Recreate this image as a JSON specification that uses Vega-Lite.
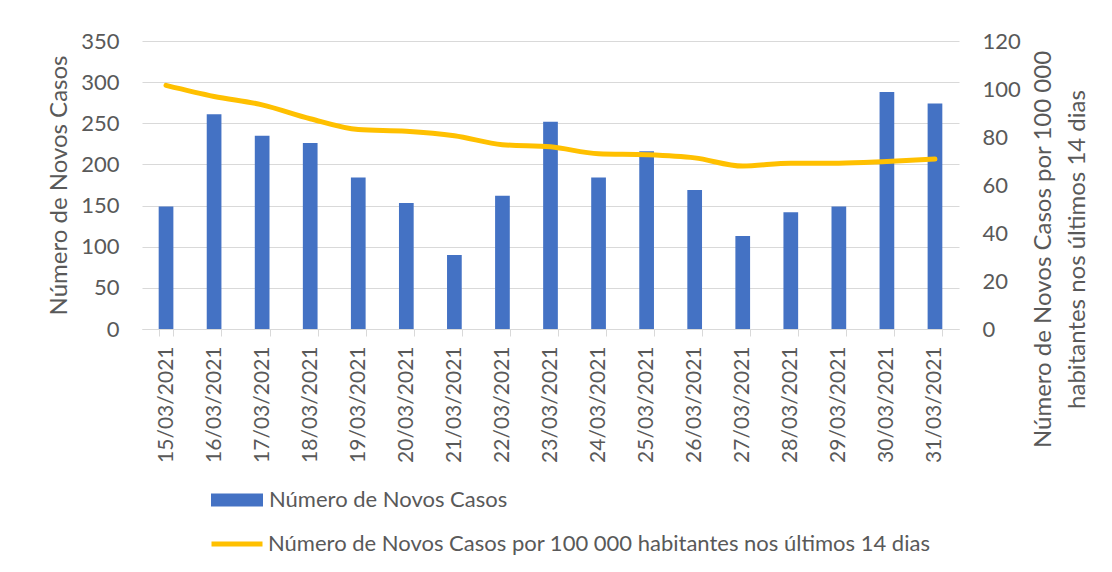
{
  "$schema": "https://vega.github.io/schema/vega-lite/v6.json",
  "width": 817,
  "height": 288,
  "autosize": {"type": "none"},
  "padding": {"left": 142, "top": 41, "right": 153, "bottom": 243},
  "background": "white",
  "config": {
    "view": {"stroke": null},
    "font": "Lato",
    "axis": {"labelColor": "#595959", "titleColor": "#595959", "labelFont": "Lato", "titleFont": "Lato", "titleFontWeight": "normal"},
    "legend": {"labelFont": "Lato", "labelColor": "#595959", "labelLimit": 0}
  },
  "data": {
    "values": [
      {"data": "15/03/2021", "casos": 149, "incidencia": 101.5},
      {"data": "16/03/2021", "casos": 261, "incidencia": 96.9},
      {"data": "17/03/2021", "casos": 235, "incidencia": 93.4},
      {"data": "18/03/2021", "casos": 226, "incidencia": 87.6},
      {"data": "19/03/2021", "casos": 184, "incidencia": 83.1},
      {"data": "20/03/2021", "casos": 153, "incidencia": 82.4},
      {"data": "21/03/2021", "casos": 90, "incidencia": 80.5},
      {"data": "22/03/2021", "casos": 162, "incidencia": 76.8},
      {"data": "23/03/2021", "casos": 252, "incidencia": 75.9},
      {"data": "24/03/2021", "casos": 184, "incidencia": 73.0},
      {"data": "25/03/2021", "casos": 216, "incidencia": 72.6},
      {"data": "26/03/2021", "casos": 169, "incidencia": 71.3},
      {"data": "27/03/2021", "casos": 113, "incidencia": 67.9},
      {"data": "28/03/2021", "casos": 142, "incidencia": 69.1},
      {"data": "29/03/2021", "casos": 149, "incidencia": 69.1},
      {"data": "30/03/2021", "casos": 288, "incidencia": 69.8},
      {"data": "31/03/2021", "casos": 274, "incidencia": 70.8}
    ]
  },
  "encoding": {
    "x": {
      "field": "data",
      "type": "nominal",
      "sort": null,
      "scale": {"paddingInner": 0.694, "paddingOuter": 0.347},
      "axis": {
        "title": null,
        "labelAngle": -90,
        "labelFontSize": 21,
        "labelPadding": 10,
        "tickSize": 7,
        "tickBand": "extent",
        "tickColor": "#d9d9d9",
        "domainColor": "#d9d9d9",
        "domainWidth": 1,
        "grid": false
      }
    }
  },
  "layer": [
    {
      "mark": {"type": "bar", "fill": "#4472C4"},
      "encoding": {
        "y": {
          "field": "casos",
          "type": "quantitative",
          "scale": {"domain": [0, 350]},
          "axis": {
            "title": "Número de Novos Casos",
            "titleFontSize": 24,
            "titleX": -83,
            "titleY": 144,
            "titleAngle": -90,
            "titleAlign": "center",
            "titleBaseline": "middle",
            "values": [0, 50, 100, 150, 200, 250, 300, 350],
            "labelFontSize": 22,
            "labelPadding": 23,
            "tickSize": 0,
            "ticks": false,
            "domain": false,
            "grid": true,
            "gridColor": "#d9d9d9",
            "gridWidth": 1
          }
        },
        "fill": {
          "datum": "Número de Novos Casos",
          "scale": {"range": ["#4472C4"]},
          "legend": {
            "title": null,
            "orient": "none",
            "legendX": 69,
            "legendY": 433,
            "symbolType": "M-1,-0.25H1V0.25H-1Z",
            "symbolSize": 2704,
            "symbolStrokeWidth": 0,
            "labelFontSize": 22,
            "labelOffset": 6
          }
        }
      }
    },
    {
      "mark": {"type": "line", "strokeWidth": 5, "strokeCap": "round", "interpolate": "monotone"},
      "encoding": {
        "y": {
          "field": "incidencia",
          "type": "quantitative",
          "scale": {"domain": [0, 120]},
          "axis": {
            "orient": "right",
            "title": ["Número de Novos Casos por 100 000", "habitantes nos últimos 14 dias"],
            "titleFontSize": 24,
            "titleLineHeight": 34,
            "titleX": 84,
            "titleY": 208,
            "titleAngle": -90,
            "titleAlign": "center",
            "titleBaseline": "middle",
            "values": [0, 20, 40, 60, 80, 100, 120],
            "labelFontSize": 22,
            "labelPadding": 23,
            "tickSize": 0,
            "ticks": false,
            "domain": false,
            "grid": false
          }
        },
        "stroke": {
          "datum": "Número de Novos Casos por 100 000 habitantes nos últimos 14 dias",
          "scale": {"range": ["#FFC000"]},
          "legend": {
            "title": null,
            "orient": "none",
            "legendX": 67,
            "legendY": 475,
            "symbolType": "stroke",
            "symbolSize": 2601,
            "symbolStrokeWidth": 5,
            "labelFontSize": 22,
            "labelOffset": 3
          }
        }
      }
    }
  ],
  "resolve": {"scale": {"y": "independent"}}
}
